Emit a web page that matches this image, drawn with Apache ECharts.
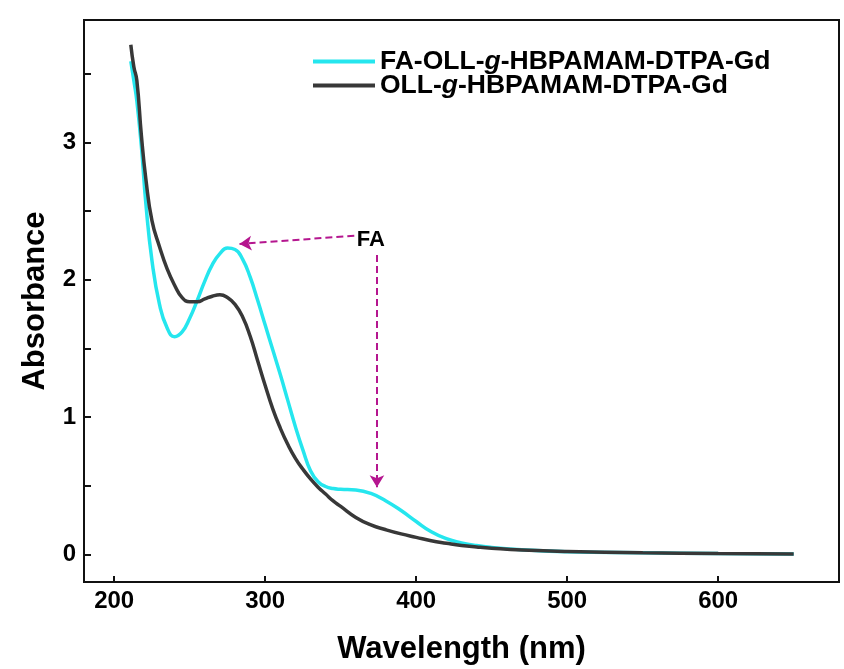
<!DOCTYPE html>
<html>
<head>
<meta charset="utf-8">
<script src="https://cdn.jsdelivr.net/npm/echarts@6/dist/echarts.min.js"></script>
<style>
html, body { margin: 0; padding: 0; background: #fff; }
#main { width: 844px; height: 669px; }
</style>
</head>
<body>
<div id="main"></div>
<script>
// wavelength grid (nm) shared by both spectra
const wavelengths = [211, 213, 215, 218, 221, 225, 230, 235, 240, 245, 250, 255, 260, 265, 270, 275, 280, 285, 290, 295,
    300, 305, 310, 315, 320, 325, 330, 335, 340, 345, 350, 360, 370, 380, 390, 400, 410, 420, 430, 440, 450, 470, 500, 550, 600, 650]

const faSeries = [3.59, 3.45, 3.30, 2.97, 2.55, 2.14, 1.82, 1.65, 1.585, 1.62, 1.72, 1.85, 1.99, 2.11, 2.19, 2.23, 2.22, 2.15, 2.02, 1.85,
    1.67, 1.49, 1.31, 1.12, 0.93, 0.76, 0.61, 0.53, 0.495, 0.48, 0.475, 0.47, 0.445, 0.39, 0.32, 0.24, 0.165, 0.115, 0.085, 0.065, 0.052, 0.035, 0.02, 0.012, 0.007, 0.004]

const plainSeries = [3.71, 3.55, 3.45, 3.05, 2.73, 2.43, 2.24, 2.08, 1.96, 1.87, 1.84, 1.84, 1.86, 1.88, 1.89, 1.87, 1.82, 1.73, 1.59, 1.41,
    1.23, 1.06, 0.92, 0.80, 0.70, 0.62, 0.55, 0.49, 0.44, 0.39, 0.35, 0.27, 0.215, 0.18, 0.15, 0.125, 0.10, 0.082, 0.066, 0.055, 0.046, 0.033, 0.022, 0.012, 0.007, 0.004]

const seriesNames = ['FA-OLL-g-HBPAMAM-DTPA-Gd', 'OLL-g-HBPAMAM-DTPA-Gd']
const xTicks = [200, 300, 400, 500, 600]
const yTicks = [0, 0.5, 1, 1.5, 2, 2.5, 3, 3.5]
const yLabels = [0, 1, 2, 3]

// FA annotation: label spot and the two dashed arrows (data coords)
const faLabel = [370, 2.29]
const arrowPeak = [[359, 2.32], [283, 2.26]]
const arrowShoulder = [[374, 2.18], [374, 0.49]]

const pairs = (ys) => wavelengths.map((x, i) => [x, ys[i]])
const font = 'Liberation Sans, Arial, sans-serif'
const arrowColor = '#b5168f'

const chart = echarts.init(document.getElementById('main'))
chart.setOption({
    animation: false,
    backgroundColor: '#fff',
    grid: {
        left: 84,
        right: 5,
        top: 20,
        bottom: 87,
        outerBoundsMode: 'none',
        containLabel: false,
        show: true,
        borderColor: '#111',
        borderWidth: 2,
    },
    legend: {
        data: seriesNames,
        orient: 'vertical',
        left: 313,
        top: 48,
        padding: 0,
        itemWidth: 62,
        itemHeight: 4,
        itemGap: -3,
        icon: 'rect',
        textStyle: {
            fontFamily: font,
            fontWeight: 'bold',
            fontSize: 26.5,
            color: '#000',
            rich: {
                i: { fontFamily: font, fontWeight: 'bold', fontStyle: 'italic', fontSize: 26.5, color: '#000' },
            },
        },
        formatter: (name) => name.replace('-g-', '-{i|g}-'),
    },
    xAxis: {
        type: 'value',
        min: 180,
        max: 680,
        name: 'Wavelength (nm)',
        nameLocation: 'middle',
        nameGap: 52,
        nameTextStyle: { fontFamily: font, fontWeight: 'bold', fontSize: 31, color: '#000' },
        axisLine: { show: true, onZero: false, lineStyle: { color: '#111', width: 2 } },
        axisTick: { show: true, inside: true, length: 6, customValues: xTicks, lineStyle: { color: '#111', width: 2 } },
        axisLabel: { customValues: xTicks, margin: 7, fontFamily: font, fontWeight: 'bold', fontSize: 24, color: '#000' },
        splitLine: { show: false },
    },
    yAxis: {
        type: 'value',
        min: -0.2,
        max: 3.89,
        name: 'Absorbance',
        nameLocation: 'middle',
        nameGap: 33,
        nameTextStyle: { fontFamily: font, fontWeight: 'bold', fontSize: 31, color: '#000' },
        axisLine: { show: true, onZero: false, lineStyle: { color: '#111', width: 2 } },
        axisTick: { show: true, inside: true, length: 7, customValues: yTicks, lineStyle: { color: '#111', width: 2 } },
        axisLabel: { customValues: yLabels, margin: 8, fontFamily: font, fontWeight: 'bold', fontSize: 24, color: '#000' },
        splitLine: { show: false },
    },
    series: [
        {
            name: seriesNames[0],
            type: 'line',
            data: pairs(faSeries),
            showSymbol: false,
            smooth: 0.5,
            color: '#25e6ee',
            lineStyle: { width: 3.5, color: '#25e6ee' },
            markLine: {
                silent: true,
                symbol: ['none', 'arrow'],
                symbolSize: [11, 12],
                label: { show: false },
                lineStyle: { type: [7, 4], width: 2, color: arrowColor },
                data: [
                    [{ coord: arrowPeak[0] }, { coord: arrowPeak[1] }],
                    [{ coord: arrowShoulder[0] }, { coord: arrowShoulder[1] }],
                ],
            },
            markPoint: {
                silent: true,
                symbol: 'circle',
                symbolSize: 0,
                label: {
                    show: true,
                    position: 'inside',
                    formatter: 'FA',
                    fontFamily: font,
                    fontWeight: 'bold',
                    fontSize: 22,
                    color: '#000',
                },
                data: [{ coord: faLabel }],
            },
        },
        {
            name: seriesNames[1],
            type: 'line',
            data: pairs(plainSeries),
            showSymbol: false,
            smooth: 0.5,
            color: '#383838',
            lineStyle: { width: 3.5, color: '#383838' },
        },
    ],
})
</script>
</body>
</html>
